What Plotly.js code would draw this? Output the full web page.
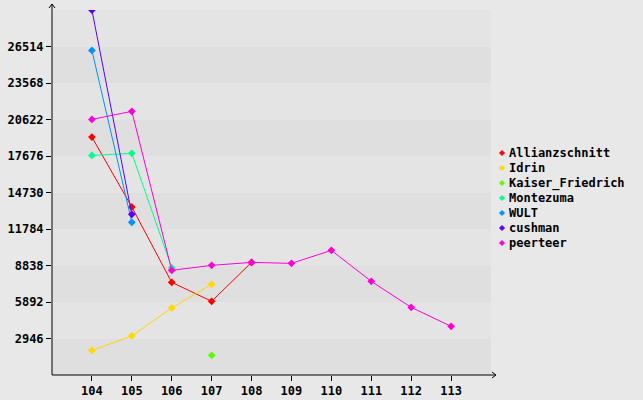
<!DOCTYPE html>
<html><head><meta charset="utf-8">
<script src="https://cdn.plot.ly/plotly-3.0.1.min.js"></script>
<style>html,body{margin:0;padding:0;background:#e8e8e8;}</style>
</head><body>
<div id="chart" style="width:643px;height:400px;"></div>
<script>
const rounds = [104,105,106,107,108,109,110,111,112,113];
const tickVals = [2946,5892,8838,11784,14730,17676,20622,23568,26514];
const yMax = 29460;

const seriesNames = ["Allianzschnitt","Idrin","Kaiser_Friedrich","Montezuma","WULT","cushman","peerteer"];
const allianzschnittX = [104,105,106,107,108];
const allianzschnittY = [19200,13560,7480,5950,9090];
const idrinX = [104,105,106,107];
const idrinY = [1990,3150,5410,7320];
const kaiserX = [107];
const kaiserY = [1590];
const montezumaX = [104,105,106];
const montezumaY = [17720,17890,8660];
const wultX = [104,105];
const wultY = [26200,12320];
const cushmanX = [104,105];
const cushmanY = [29460,12970];
const peerteerX = [104,105,106,107,108,109,110,111,112,113];
const peerteerY = [20630,21280,8450,8850,9090,9010,10060,7560,5460,3930];

const seriesX = [allianzschnittX,idrinX,kaiserX,montezumaX,wultX,cushmanX,peerteerX];
const seriesY = [allianzschnittY,idrinY,kaiserY,montezumaY,wultY,cushmanY,peerteerY];
const colors = ["hsl(0,100%,50%)","hsl(51,100%,50%)","hsl(99,100%,50%)","hsl(154,100%,50%)","hsl(206,100%,50%)","hsl(260,100%,50%)","hsl(309,100%,50%)"];

const traces = [];
seriesNames.forEach((n,i)=>{
  traces.push({x:seriesX[i], y:seriesY[i], type:'scatter', mode:'lines+markers', name:n,
    line:{color:colors[i], width:1}, marker:{symbol:'diamond', size:6, color:colors[i]},
    showlegend:false, hoverinfo:'none'});
});

const pw = 439, ph = 365;
const shapes = [];
const annotations = [];
const bandEdges = [0].concat(tickVals).concat([yMax]);
for (let k=0;k<bandEdges.length-1;k++){
  shapes.push({type:'rect', xref:'paper', yref:'y', x0:0, x1:1, y0:bandEdges[k], y1:bandEdges[k+1],
    fillcolor: k%2===0 ? '#dfdfdf' : '#e4e4e4', line:{width:0}, layer:'below'});
}
// axis lines with arrows
shapes.push({type:'line', xref:'paper', yref:'paper', x0:0, x1:0, y0:0, y1:1+6/ph, line:{color:'#000', width:1}});
shapes.push({type:'line', xref:'paper', yref:'paper', x0:0, x1:1+4/pw, y0:0, y1:0, line:{color:'#000', width:1}});
shapes.push({type:'path', xref:'paper', yref:'paper',
  path:`M ${-3/pw},${1+2/ph} L 0,${1+6/ph} L ${3/pw},${1+2/ph}`, line:{color:'#000', width:1}});
shapes.push({type:'path', xref:'paper', yref:'paper',
  path:`M ${1+1/pw},${3/ph} L ${1+5/pw},0 L ${1+1/pw},${-3/ph}`, line:{color:'#000', width:1}});

const font = {family:'"DejaVu Sans Mono", monospace', size:12, color:'#000', weight:'bold'};

// legend drawn manually
seriesNames.forEach((n,i)=>{
  const cyPx = 153 + i*15;
  const cy = (375-cyPx)/ph;
  const cx = (502-52)/pw;
  const dx = 2.5/pw, dy = 2.5/ph;
  shapes.push({type:'path', xref:'paper', yref:'paper',
    path:`M ${cx-dx},${cy} L ${cx},${cy+dy} L ${cx+dx},${cy} L ${cx},${cy-dy} Z`,
    fillcolor:colors[i], line:{color:colors[i], width:1}});
  annotations.push({xref:'paper', yref:'paper', x:(507-52)/pw, y:cy, xanchor:'left', yanchor:'middle',
    text:n, showarrow:false, font:font});
});

const layout = {
  width:643, height:400,
  margin:{l:52, r:152, t:10, b:25},
  paper_bgcolor:'#e8e8e8', plot_bgcolor:'rgba(0,0,0,0)',
  showlegend:false,
  xaxis:{range:[103,114], tickvals:rounds, ticktext:rounds.map(String), showgrid:false, zeroline:false,
    ticks:'outside', ticklen:5, tickcolor:'#000', tickfont:font, showline:false, fixedrange:true},
  yaxis:{range:[0,yMax], tickvals:tickVals, ticktext:tickVals.map(String), showgrid:false, zeroline:false,
    ticks:'outside', ticklen:5, tickcolor:'#000', tickfont:font, showline:false, fixedrange:true},
  shapes:shapes,
  annotations:annotations
};
Plotly.newPlot('chart', traces, layout, {displayModeBar:false, staticPlot:true});
</script>
</body></html>
